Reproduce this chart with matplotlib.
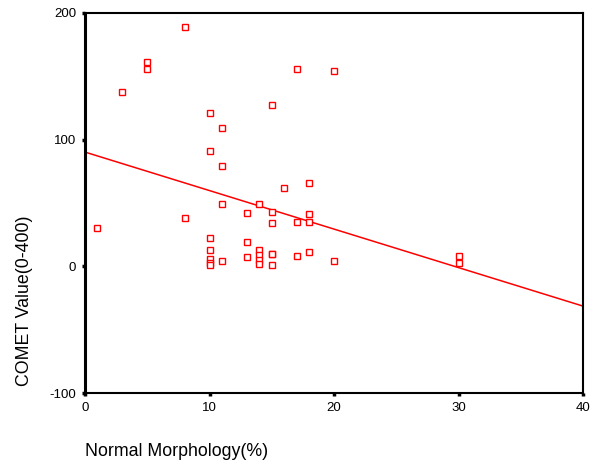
import numpy as np
import matplotlib
matplotlib.use('Agg')
import matplotlib.pyplot as plt

plt.rcParams['font.family'] = ['Liberation Sans', 'DejaVu Sans']
plt.rcParams['axes.unicode_minus'] = False

# Scatter data
morphology = [8, 5, 5, 3, 17, 20, 10, 11, 15, 10, 11, 16, 18,
              1, 8, 11, 14, 13, 15, 15, 17, 18, 18,
              10, 10, 10, 10, 10, 11, 13, 13, 14, 14, 14, 14,
              15, 15, 15, 17, 18, 20, 30, 30]
comet = [189, 161, 156, 138, 156, 154, 121, 109, 127, 91, 79, 62, 66,
         30, 38, 49, 49, 42, 43, 34, 35, 41, 35,
         22, 13, 6, 3, 1, 4, 19, 7, 13, 9, 5, 2,
         10, 10, 1, 8, 11, 4, 8, 3]

# Fitted line
fit_intercept = 90.2
fit_slope = -3.04

x_ticks = [0, 10, 20, 30, 40]
y_ticks = [-100, 0, 100, 200]

fig = plt.figure(figsize=(6.0, 4.63), dpi=100)
ax = fig.add_axes([85 / 600, 1 - 393 / 463, 498 / 600, 380 / 463])

# regression line
line_x = np.array([0, 40])
ax.plot(line_x, fit_intercept + fit_slope * line_x, color='red', lw=1.1)

ax.plot(morphology, comet, linestyle='none', marker='s', ms=4.3,
        mfc='white', mec='red', mew=1.0)

ax.set_xlim(0, 40)
ax.set_ylim(-100, 200)
ax.set_xticks(x_ticks)
ax.set_yticks(y_ticks)
ax.tick_params(direction='out', length=2.5, width=2.5, labelsize=9.5,
               colors='black', pad=4)

for side in ['top', 'right', 'bottom']:
    ax.spines[side].set_linewidth(1.5)
ax.spines['left'].set_linewidth(2.2)

fig.text(85 / 600, 1 - 451 / 463, 'Normal Morphology(%)', fontsize=12.8,
         ha='left', va='center')
fig.text(25 / 600, 1 - 301 / 463, 'COMET Value(0-400)', fontsize=12.8,
         rotation=90, ha='center', va='center')

fig.savefig('out.png', dpi=100)
